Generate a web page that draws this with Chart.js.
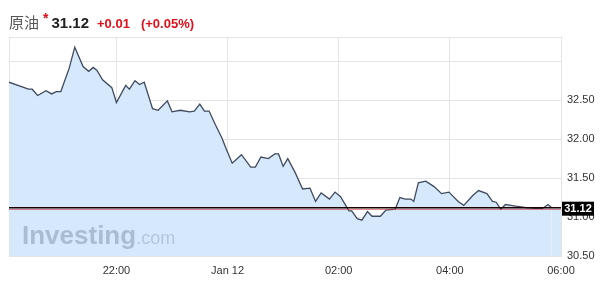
<!DOCTYPE html>
<html>
<head>
<meta charset="utf-8">
<script src="https://cdn.jsdelivr.net/npm/chart.js@4.4.1/dist/chart.umd.min.js"></script>
<style>
  html, body { margin: 0; padding: 0; background: #fff; }
  #wrap { position: relative; width: 603px; height: 284px; }
  #chart { position: absolute; left: 0; top: 0; }
  #head { position: absolute; left: 9px; top: 11px; white-space: nowrap; font-family: "Liberation Sans", Arial, sans-serif; }
  #head .name { font-family: "Noto Sans CJK SC", sans-serif; font-size: 15px; color: #555; }
  #head .star { color: #e0101a; font-size: 14px; font-weight: bold; position: relative; top: -5px; margin-left: 4px; }
  #head .last { font-size: 15px; font-weight: bold; color: #222; margin-left: 3px; }
  #head .chg { font-size: 13px; font-weight: bold; color: #e0101a; margin-left: 8px; }
</style>
</head>
<body>
<div id="wrap">
  <canvas id="chart" width="603" height="284"></canvas>
  <div id="head"><span class="name">原油</span><span class="star">*</span><span class="last">31.12</span><span class="chg">+0.01</span><span class="chg" style="margin-left:11px">(+0.05%)</span></div>
</div>
<script>
// minutes after 20:00 (Jan 11)
const minutes = [4, 25, 29, 35, 44, 50, 55, 60, 69, 75, 84, 90, 95, 99, 105, 115,
  120, 130, 134, 140, 145, 150, 159, 165, 175, 180, 189, 199, 204, 210, 215, 220,
  227, 234, 239, 245, 255, 265, 270, 276, 284, 291, 295, 300, 305, 313, 321, 329,
  335, 341, 350, 356, 362, 371, 374, 380, 385, 391, 396, 405, 411, 421, 426, 432,
  438, 441, 446, 454, 463, 471, 479, 489, 495, 505, 511, 520, 526, 530, 535, 540,
  546, 551, 557, 562, 571, 580, 586, 590];
const prices = [32.73, 32.64, 32.64, 32.56, 32.62, 32.58, 32.61, 32.61, 32.91, 33.18, 32.93, 32.87, 32.92, 32.88, 32.76, 32.66,
  32.47, 32.69, 32.64, 32.75, 32.70, 32.73, 32.39, 32.37, 32.49, 32.35, 32.37, 32.35, 32.36, 32.45, 32.36, 32.36,
  32.18, 32.01, 31.86, 31.69, 31.80, 31.64, 31.64, 31.77, 31.75, 31.81, 31.81, 31.65, 31.75, 31.57, 31.36, 31.37,
  31.20, 31.31, 31.23, 31.32, 31.26, 31.08, 31.08, 30.98, 30.96, 31.07, 31.01, 31.01, 31.09, 31.10, 31.25, 31.23,
  31.23, 31.20, 31.44, 31.46, 31.39, 31.30, 31.32, 31.20, 31.15, 31.28, 31.34, 31.30, 31.20, 31.19, 31.10, 31.16,
  31.15, 31.14, 31.13, 31.12, 31.11, 31.11, 31.16, 31.12];
const lastPrice = 31.12;
const tickMinutes = [4, 120, 240, 360, 480, 600];
const tickLabels = ["", "22:00", "Jan 12", "02:00", "04:00", "06:00"];
const yTicks = [30.5, 31, 31.5, 32, 32.5, 33, 33.31];
const yLabels = ["30.50", "31.00", "31.50", "32.00", "32.50", "", ""];

const FILL = 'rgb(214,233,252)';

const overlay = {
  id: 'overlay',
  beforeDatasetsDraw(chart) {
    // area fill carries on to the right edge after the last tick
    const ctx = chart.ctx, a = chart.chartArea;
    const meta = chart.getDatasetMeta(0).data;
    const last = meta[meta.length - 1];
    ctx.save();
    ctx.fillStyle = FILL;
    ctx.fillRect(last.x, last.y, a.right - last.x, a.bottom - last.y);
    ctx.restore();
  },
  afterDatasetsDraw(chart) {
    const ctx = chart.ctx, a = chart.chartArea;
    const y = chart.scales.y.getPixelForValue(lastPrice);
    ctx.save();
    // watermark
    ctx.textBaseline = 'alphabetic';
    ctx.fillStyle = 'rgba(140,158,182,0.6)';
    ctx.font = 'bold 26px "Liberation Sans", Arial, sans-serif';
    ctx.fillText('Investing', 22, 244);
    const w = ctx.measureText('Investing').width;
    ctx.fillStyle = 'rgba(150,170,195,0.55)';
    ctx.font = '18px "Liberation Sans", Arial, sans-serif';
    ctx.fillText('.com', 22 + w, 244);
    // last price line
    ctx.strokeStyle = '#1a0000';
    ctx.lineWidth = 1.6;
    ctx.beginPath(); ctx.moveTo(a.left, y); ctx.lineTo(a.right, y); ctx.stroke();
    ctx.strokeStyle = 'rgba(210,60,60,0.6)';
    ctx.lineWidth = 1;
    ctx.beginPath(); ctx.moveTo(a.left, y + 1.8); ctx.lineTo(a.right, y + 1.8); ctx.stroke();
    // price box
    ctx.fillStyle = '#000';
    ctx.fillRect(a.right + 1, y - 6, 32, 14);
    ctx.fillStyle = '#fff';
    ctx.font = 'bold 11px "Liberation Sans", Arial, sans-serif';
    ctx.textAlign = 'center';
    ctx.textBaseline = 'middle';
    ctx.fillText(lastPrice.toFixed(2), a.right + 17, y + 1.5);
    ctx.restore();
  }
};

new Chart(document.getElementById('chart'), {
  type: 'line',
  data: {
    datasets: [{
      data: minutes.map((m, i) => ({ x: m, y: prices[i] })),
      borderColor: '#3f4a5e',
      borderWidth: 1.3,
      backgroundColor: FILL,
      fill: 'start',
      pointRadius: 0,
      tension: 0
    }]
  },
  options: {
    responsive: false,
    animation: false,
    layout: { padding: { left: 9, top: 37, right: 0, bottom: 0 } },
    plugins: { legend: { display: false }, tooltip: { enabled: false } },
    scales: {
      x: {
        type: 'linear',
        min: 4, max: 600,
        afterBuildTicks: s => { s.ticks = tickMinutes.map(v => ({ value: v })); },
        afterFit: s => { s.height = 28; },
        grid: { color: '#e4e4e4', drawTicks: false },
        border: { display: false },
        ticks: {
          padding: 8,
          maxRotation: 0,
          autoSkip: false,
          color: '#333',
          font: { family: '"Liberation Sans", Arial, sans-serif', size: 11 },
          callback: (v, i) => tickLabels[i]
        }
      },
      y: {
        position: 'right',
        min: 30.5, max: 33.31,
        afterBuildTicks: s => { s.ticks = yTicks.map(v => ({ value: v })); },
        afterFit: s => { s.width = 42; },
        grid: { color: '#e4e4e4', drawTicks: false },
        border: { display: true, color: '#e4e4e4' },
        ticks: {
          padding: 6,
          color: '#333',
          font: { family: '"Liberation Sans", Arial, sans-serif', size: 11 },
          callback: (v, i) => yLabels[i]
        }
      }
    }
  },
  plugins: [overlay]
});
</script>
</body>
</html>
